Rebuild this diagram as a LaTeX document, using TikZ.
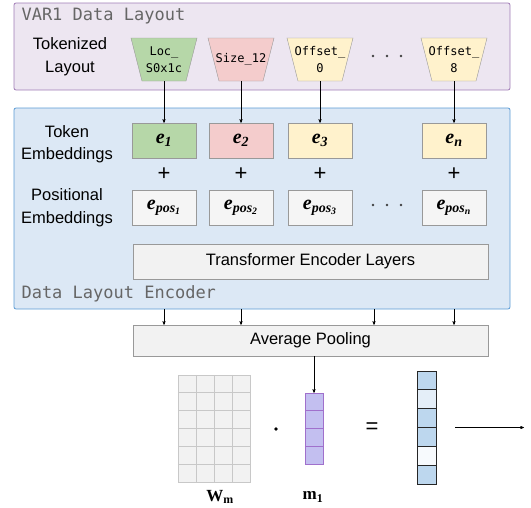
\documentclass[tikz,border=0pt]{standalone}
\usepackage{fontspec}
\setsansfont{Liberation Sans}
\setmonofont{DejaVu Sans Mono}
\newfontfamily\timesfont{Liberation Serif}
\usetikzlibrary{arrows,shapes.geometric,positioning,calc}
\definecolor{layoutfill}{HTML}{EDE6F1}
\definecolor{layoutdraw}{HTML}{A07CB6}
\definecolor{encfill}{HTML}{DCE8F5}
\definecolor{encdraw}{HTML}{5B9BD5}
\definecolor{tokgreen}{HTML}{B6D7A8}
\definecolor{tokpink}{HTML}{F4CCCC}
\definecolor{tokyellow}{HTML}{FFF2CC}
\definecolor{boxgray}{HTML}{F2F2F2}
\definecolor{posgray}{HTML}{F5F5F5}
\definecolor{linegray}{HTML}{999999}
\definecolor{gridgray}{HTML}{C8C8C8}
\definecolor{vecpurple}{HTML}{C3BFF0}
\definecolor{vecborder}{HTML}{A070CC}
\definecolor{outblue}{HTML}{BDD7EE}
\definecolor{outlight}{HTML}{E4EEF8}
\definecolor{outwhite}{HTML}{F7FAFD}
\definecolor{titlegray}{HTML}{666666}
\tikzset{
    frame/.style =  {rectangle,
                    rounded corners=2pt,
                    thick},
    tok/.style =    {trapezium,
                    trapezium angle=76,
                    shape border rotate=180,
                    trapezium stretches=true,
                    minimum width=66pt,
                    minimum height=43pt,
                    draw=linegray,
                    inner sep=2pt},
    tokfont/.style = {font=\ttfamily\fontsize{12}{17}\selectfont,
                    align=center},
    emb/.style =    {rectangle,
                    draw=linegray,
                    minimum width=64pt,
                    minimum height=35pt,
                    font=\timesfont\fontsize{20}{20}\selectfont\bfseries\itshape},
    layer/.style =  {rectangle,
                    draw=linegray,
                    fill=boxgray,
                    minimum width=355pt,
                    font=\sffamily\fontsize{16.5}{17}\selectfont},
    side/.style =   {font=\sffamily\fontsize{16.5}{22.5}\selectfont,
                    align=center},
    title/.style =  {font=\ttfamily\fontsize{17}{17}\selectfont,
                    text=titlegray,
                    anchor=west},
    op/.style =     {font=\sffamily\fontsize{22}{22}\selectfont},
    vec/.style =    {rectangle,
                    inner sep=0pt},
    vlabel/.style = {font=\timesfont\fontsize{17}{17}\selectfont\bfseries},
    >=stealth'}

\begin{document}
\begin{tikzpicture}[x=1pt, y=-1pt, node distance=67pt]
                \useasboundingbox (0,0) rectangle (531,507);
                % frames
                \node[frame, draw=layoutdraw, fill=layoutfill, minimum width=496pt, minimum height=87pt] (layout) at (262,46.5) {};
                \node[frame, draw=encdraw, fill=encfill, minimum width=496pt, minimum height=201pt] (enc) at (262,208.5) {};
                \node[title] (ltitle) at (18,16) {VAR1 Data Layout};
                \node[title] (etitle) at (18,294) {Data Layout Encoder};
                % row labels
                \node[side] (toklab) at (70,56.5) {Tokenized\\Layout};
                \node[side] (emblab) at (67,144) {Token\\Embeddings};
                \node[side] (poslab) at (67,207.5) {Positional\\Embeddings};
                % tokens
                \node[tok, fill=tokgreen,  label={[tokfont]center:Loc\_\\S0x1c}] (t1) at (164,59.5) {};
                \node[tok, fill=tokpink,   label={[tokfont]center:Size\_12}]     (t2) at (241,59.5) {};
                \node[tok, fill=tokyellow, label={[tokfont]center:Offset\_\\0}]  (t3) at (320,59.5) {};
                \node[tok, fill=tokyellow, label={[tokfont]center:Offset\_\\8}]  (tn) at (454,59.5) {};
                \foreach \dx in {-14,0,14}
                    \fill[black!75] (387+\dx,56) circle (1.3);
                % embeddings
                \node[emb, fill=tokgreen]  (e1) at (164,140.5) {e\textsubscript{1}};
                \node[emb, fill=tokpink]   (e2) at (241,140.5) {e\textsubscript{2}};
                \node[emb, fill=tokyellow] (e3) at (320,140.5) {e\textsubscript{3}};
                \node[emb, fill=tokyellow] (en) at (454,140.5) {e\textsubscript{n}};
                \node[emb, fill=posgray] (p1) [below of=e1] {e\textsubscript{pos\textsubscript{1}}};
                \node[emb, fill=posgray] (p2) [below of=e2] {e\textsubscript{pos\textsubscript{2}}};
                \node[emb, fill=posgray] (p3) [below of=e3] {e\textsubscript{pos\textsubscript{3}}};
                \node[emb, fill=posgray] (pn) [below of=en] {e\textsubscript{pos\textsubscript{n}}};
                \foreach \n/\p in {e1/p1,e2/p2,e3/p3,en/pn}
                    \node[op] (plus-\n) at ($(\n)!0.5!(\p)$) {+};
                \foreach \dx in {-14,0,14}
                    \fill[black!75] (387+\dx,205) circle (1.3);
                \foreach \t/\e in {t1/e1,t2/e2,t3/e3,tn/en}
                    \draw[->] (\t) -- (\e);
                % layers
                \node[layer, minimum height=35pt] (trans) at (310.5,261.5) {Transformer Encoder Layers};
                \node[layer, minimum height=31pt] (pool) at (310.5,340.5) {Average Pooling};
                \coordinate (c3) at (374,0);
                \foreach \n in {e1,e2,c3,en}
                    \draw[->] (enc.south -| \n) -- (pool.north -| \n);
                % projection
                \node[vec, draw=gridgray, fill=boxgray, minimum width=72pt, minimum height=107pt] (Wm) at (214,428.5) {};
                \foreach \i in {1,2,3}
                    \draw[gridgray] ($(Wm.north west)+(18*\i,0)$) -- ($(Wm.south west)+(18*\i,0)$);
                \foreach \j in {1,...,5}
                    \draw[gridgray] ($(Wm.north west)+(0,107/6*\j)$) -- ($(Wm.north east)+(0,107/6*\j)$);
                \node[vec, draw=vecborder, fill=vecpurple, minimum width=18pt, minimum height=71pt] (m1) at (314,428.5) {};
                \foreach \j in {1,2,3}
                    \draw[vecborder] ($(m1.north west)+(0,71/4*\j)$) -- ($(m1.north east)+(0,71/4*\j)$);
                \node[vec, minimum width=19pt, minimum height=113pt] (out) at (426.5,427.5) {};
                \foreach \k/\c in {0/outblue,1/outlight,2/outblue,3/outblue,4/outwhite,5/outblue}
                    \filldraw[fill=\c, draw=black!85] ($(out.north west)+(0,113/6*\k)$) rectangle ++(19,113/6);
                \node[circle, fill=black, inner sep=1.4pt] (dot) at (276,429) {};
                \node[op] (eq) at (372,428) {=};
                \draw[->] (pool.south -| m1) -- (m1.north);
                \coordinate (outend) at (524,427.5);
                \draw[->, shorten <=19pt] (out.east) -- (outend);
                \node[vlabel] (wlab) at (220,497) {W\textsubscript{m}};
                \node[vlabel] (mlab) at (313,497) {m\textsubscript{1}};
        \end{tikzpicture}
\end{document}
